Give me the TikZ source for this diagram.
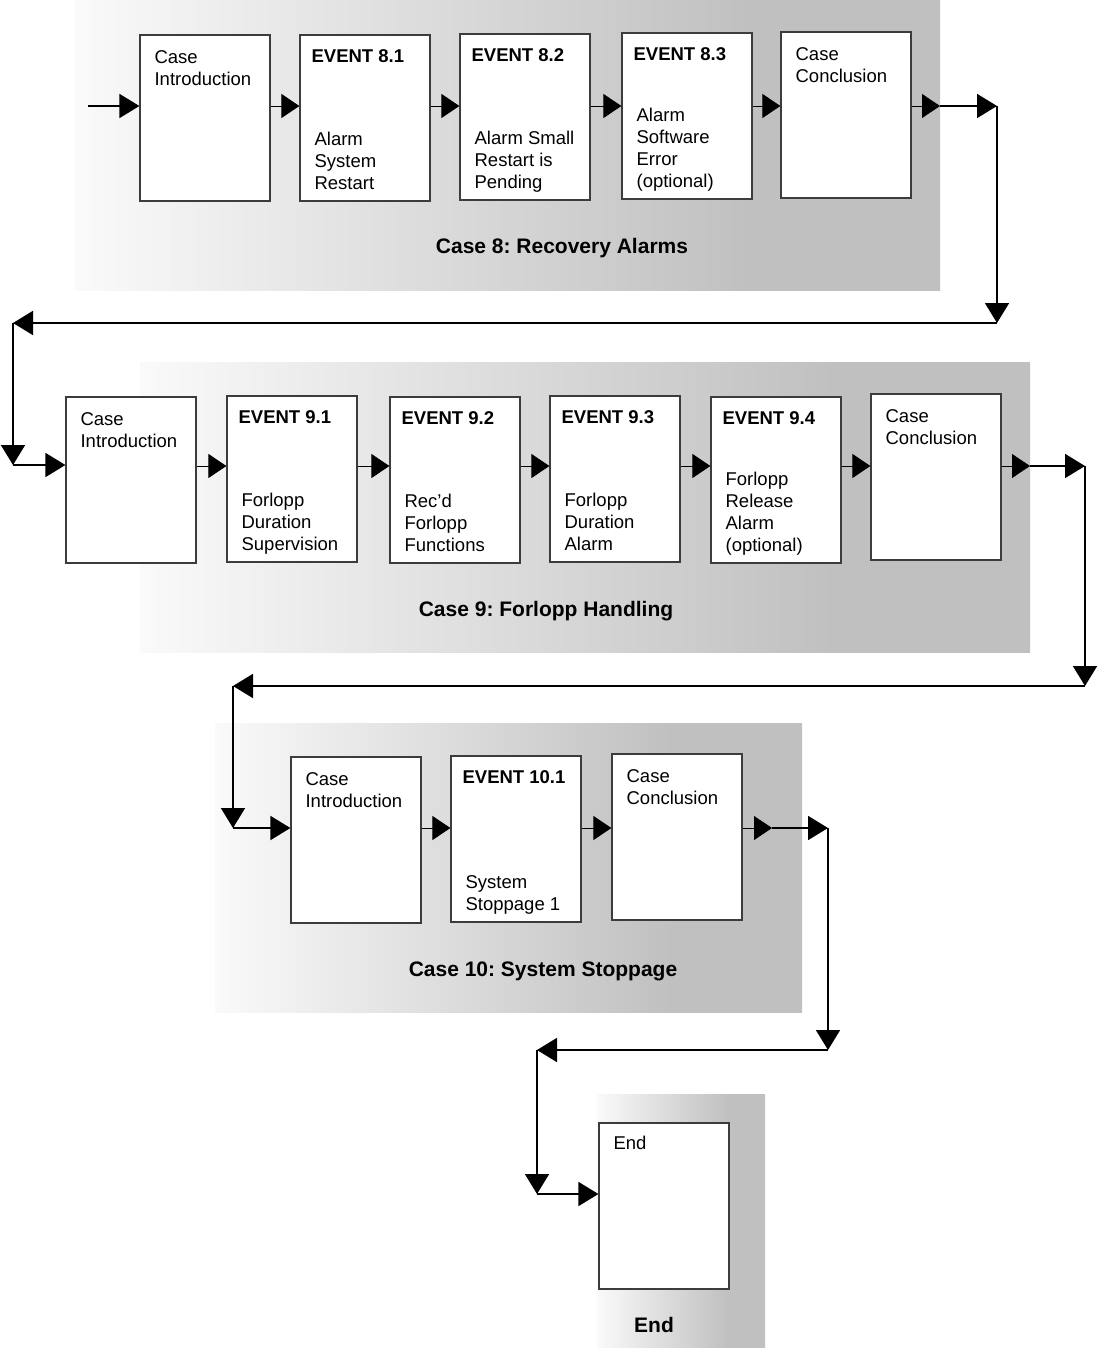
\documentclass[tikz,border=0pt]{standalone}
\usepackage{fontspec}
\setmainfont{Liberation Sans}
\usetikzlibrary{arrows.meta}
\frenchspacing
\definecolor{caseshade}{RGB}{192,192,192}
\definecolor{boxline}{RGB}{60,60,60}
\pgfdeclarehorizontalshading{caseband}{100bp}{color(0bp)=(white!98!black); color(25bp)=(white!98!black); color(64bp)=(caseshade); color(100bp)=(caseshade)}
\tikzset{
  box/.style={draw=boxline,line width=1.2pt,fill=white,minimum width=130pt,minimum height=166pt,inner sep=0pt},
  txt/.style={font=\fontsize{18.5}{22}\selectfont,inner sep=0pt,align=left},
  head/.style={txt,font=\fontsize{18.5}{22}\selectfont\bfseries,anchor=base west},
  casename/.style={font=\fontsize{21}{25}\selectfont\bfseries,inner sep=0pt,anchor=base},
  link/.style={line width=0.8pt,-{Triangle[length=18pt,width=24pt]}},
  flow/.style={line width=1.8pt,-{Triangle[length=20pt,width=24pt]}},
  band/.style={shading=caseband}
}
\begin{document}
\begin{tikzpicture}[x=1pt,y=-1pt]
\useasboundingbox (0,0) rectangle (1097,1348);
\shade[band] (75,0) rectangle (940,290);
\shade[band] (140,362) rectangle (1030,652);
\shade[band] (215,723) rectangle (802,1012);
\shade[band] (597,1094) rectangle (765,1348);
\foreach \i/\x/\y in {i8/205/118,e81/365/118,e82/525/117,e83/687/116,c8/846/115,
    i9/131/480,e91/292/479,e92/455/480,e93/615/479,e94/776/480,c9/936/477,
    i10/356/840,e101/516/839,c10/677/837,en/664/1206}
  \node[box] (\i) at (\x,\y) {};
\foreach \i/\v in {i8/Introduction,c8/Conclusion,i9/Introduction,c9/Conclusion,i10/Introduction,c10/Conclusion}
  \node[txt,anchor=north west] (\i-t) at ([shift={(15,13.6)}]\i.north west) {\strut Case\\\v};
\node[txt,anchor=north west] (en-t) at ([shift={(15,11)}]en.north west) {\strut End};
\foreach \i/\v in {e81/8.1,e82/8.2,e83/8.3,e91/9.1,e92/9.2,e93/9.3,e94/9.4,e101/10.1}
  \node[head] (\i-h) at ([shift={(12,28)}]\i.north west) {EVENT \v};
\foreach \i/\v in {e81/{Alarm\\System\\Restart},e82/{Alarm Small\\Restart is\\Pending},
    e83/{Alarm\\Software\\Error\\(optional)},e91/{Forlopp\\Duration\\Supervision},
    e92/{Rec'd\\Forlopp\\Functions},e93/{Forlopp\\Duration\\Alarm},
    e94/{Forlopp\\Release\\Alarm\\(optional)},e101/{System\\Stoppage 1}}
  \node[txt,anchor=south west] (\i-d) at ([shift={(15,-5.4)}]\i.south west) {\strut\v\strut};
\node[casename] (n8) at (562,254) {Case 8: Recovery Alarms};
\node[casename] (n9) at (546,616) {Case 9: Forlopp Handling};
\node[casename] (n10) at (543,976) {Case 10: System Stoppage};
\node[casename] (n11) at (654,1332) {End};
\coordinate (s8) at (88,106);
\coordinate (r8) at (0,106);
\coordinate (r9) at (0,466);
\coordinate (r10) at (0,828);
\coordinate (a8) at (940,106);
\coordinate (b8) at (997,106);
\coordinate (d8) at (997,323);
\coordinate (f8) at (13,323);
\coordinate (g8) at (13,465);
\coordinate (a9) at (1030,466);
\coordinate (b9) at (1085,466);
\coordinate (d9) at (1085,686);
\coordinate (f9) at (233,686);
\coordinate (g9) at (233,828);
\coordinate (a10) at (772,828);
\coordinate (b10) at (828,828);
\coordinate (d10) at (828,1050);
\coordinate (f10) at (537,1050);
\coordinate (g10) at (537,1194);
\foreach \a/\b/\r in {i8/e81/r8,e81/e82/r8,e82/e83/r8,e83/c8/r8,
    i9/e91/r9,e91/e92/r9,e92/e93/r9,e93/e94/r9,e94/c9/r9,i10/e101/r10,e101/c10/r10}
  \draw[link] (\a.east |- \r) -- (\b.west |- \r);
\foreach \a/\b in {c8/a8,c9/a9,c10/a10}
  \draw[link] (\a.east |- \b) -- (\b);
\foreach \p/\q in {a8/b8,b8/d8,d8/f8,f8/g8,a9/b9,b9/d9,d9/f9,f9/g9,a10/b10,b10/d10,d10/f10,f10/g10}
  \draw[flow] (\p) -- (\q);
\draw[flow] (s8) -- (i8.west |- s8);
\draw[flow] (g8) -- (i9.west |- g8);
\draw[flow] (g9) -- (i10.west |- g9);
\draw[flow] (g10) -- (en.west |- g10);
\end{tikzpicture}
\end{document}
